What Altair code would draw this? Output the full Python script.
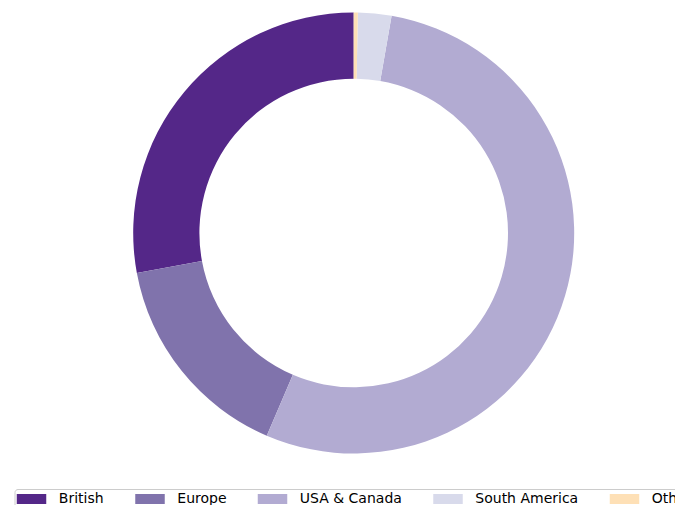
import altair as alt
import pandas as pd

regions = ["British", "Europe", "USA & Canada", "South America", "Other"]
shares = [27.9, 15.65, 53.7, 2.45, 0.3]
colors = ["#542788", "#8073ac", "#b2abd2", "#d8daeb", "#fee0b6"]
# drawing order clockwise from 12 o'clock (matplotlib draws counter-clockwise)
draw_order = [4, 3, 2, 1, 0]

df = pd.DataFrame({"region": regions, "share": shares, "ord": draw_order})

chart = alt.Chart(df).mark_arc(
    outerRadius=220.5, innerRadius=154.3
).encode(
    theta=alt.Theta("share:Q", stack=True),
    order=alt.Order("ord:Q"),
    x=alt.value(345.7),
    y=alt.value(225),
    color=alt.Color(
        "region:N",
        scale=alt.Scale(domain=regions, range=colors),
        legend=alt.Legend(
            title=None,
            orient="none",
            direction="horizontal",
            columns=5,
            legendX=6.5,
            legendY=481,
            padding=3,
            fillColor="white",
            strokeColor="#cccccc",
            cornerRadius=3,
            symbolType="M-2.95,-1H2.95V1H-2.95Z",
            symbolSize=100,
            symbolOffset=7,
            symbolStrokeWidth=0,
            symbolOpacity=1,
            labelFont="DejaVu Sans",
            labelFontSize=14,
            labelColor="#000000",
            labelOffset=20.3,
            columnPadding=30.5,
            labelLimit=300,
        ),
    ),
).properties(
    width=667, height=497, padding=0, autosize="none"
).configure_view(stroke=None)

chart.save("out.html", embed_options={"renderer": "svg", "actions": False})
